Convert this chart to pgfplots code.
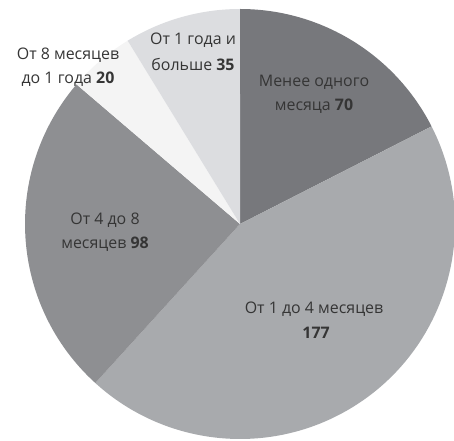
\documentclass[border=0pt]{standalone}
\usepackage{pgfplots}
\usepackage{pgfplotstable}
\usepackage{fontspec}
\setmainfont{Open Sans}
\pgfplotsset{compat=1.18}

\definecolor{pie0}{HTML}{77787C}
\definecolor{pie1}{HTML}{A8AAAD}
\definecolor{pie2}{HTML}{8E8F92}
\definecolor{pie3}{HTML}{F4F4F4}
\definecolor{pie4}{HTML}{DCDDE0}
\definecolor{labelgray}{HTML}{353535}

% slices clockwise from 12 o'clock; lx, ly = centre of the label
\pgfplotstableread[col sep=comma]{
value,lx,ly,first,second
70,314,346.5,Менее одного,месяца
177,314,120,От 1 до 4 месяцев,
98,105,209,От 4 до 8,месяцев
20,68,374,От 8 месяцев,до 1 года
35,193,388.5,От 1 года и,больше
}\piedata

\begin{document}
\begin{tikzpicture}
\begin{axis}[name=ax,
  scale only axis, width=454bp, height=441bp,
  xmin=0, xmax=454, ymin=0, ymax=441,
  axis line style={draw=none}, ticks=none, clip=false,
  /pgf/number format/assume math mode=true,
  pielabel/.style={draw=none, mark=none, only marks,
    point meta=explicit symbolic,
    every node near coord/.append style={anchor=center, text=labelgray,
      inner sep=0pt, font=\fontsize{16}{18}\selectfont}},
]
\pgfplotstablegetrowsof{\piedata}
\pgfmathtruncatemacro\nrows{\pgfplotsretval-1}
\def\total{0}
\pgfplotsforeachungrouped \i in {0,...,\nrows}{%
  \pgfplotstablegetelem{\i}{value}\of\piedata
  \pgfmathsetmacro\total{\total+\pgfplotsretval}%
}
\pgfmathsetmacro\degper{360/\total}
\def\cum{0}
\pgfplotsforeachungrouped \i in {0,...,\nrows}{%
  \pgfplotstablegetelem{\i}{value}\of\piedata
  \let\val\pgfplotsretval
  \pgfmathsetmacro\angA{90-\degper*\cum}%
  \pgfmathsetmacro\angB{90-\degper*(\cum+\val)}%
  \edef\slice{\noexpand\fill[pie\i] (240,217) -- ++(\angA:215bp)
    arc[start angle=\angA, end angle=\angB, radius=215bp] -- cycle;}%
  \slice
  \pgfmathsetmacro\cum{\cum+\val}%
}
% labels: first line, then second line with the value in bold
\addplot[pielabel, nodes near coords,
  every node near coord/.append style={yshift=12bp}]
  table[x=lx, y=ly, meta=first] {\piedata};
\addplot[pielabel,
  visualization depends on=\thisrow{value} \as \val,
  nodes near coords={\pgfplotspointmeta\ \textbf{\pgfmathprintnumber{\val}}},
  every node near coord/.append style={yshift=-12bp}]
  table[x=lx, y=ly, meta=second] {\piedata};
\end{axis}
\pgfresetboundingbox
\path (ax.south west) rectangle (ax.north east);
\end{tikzpicture}
\end{document}
